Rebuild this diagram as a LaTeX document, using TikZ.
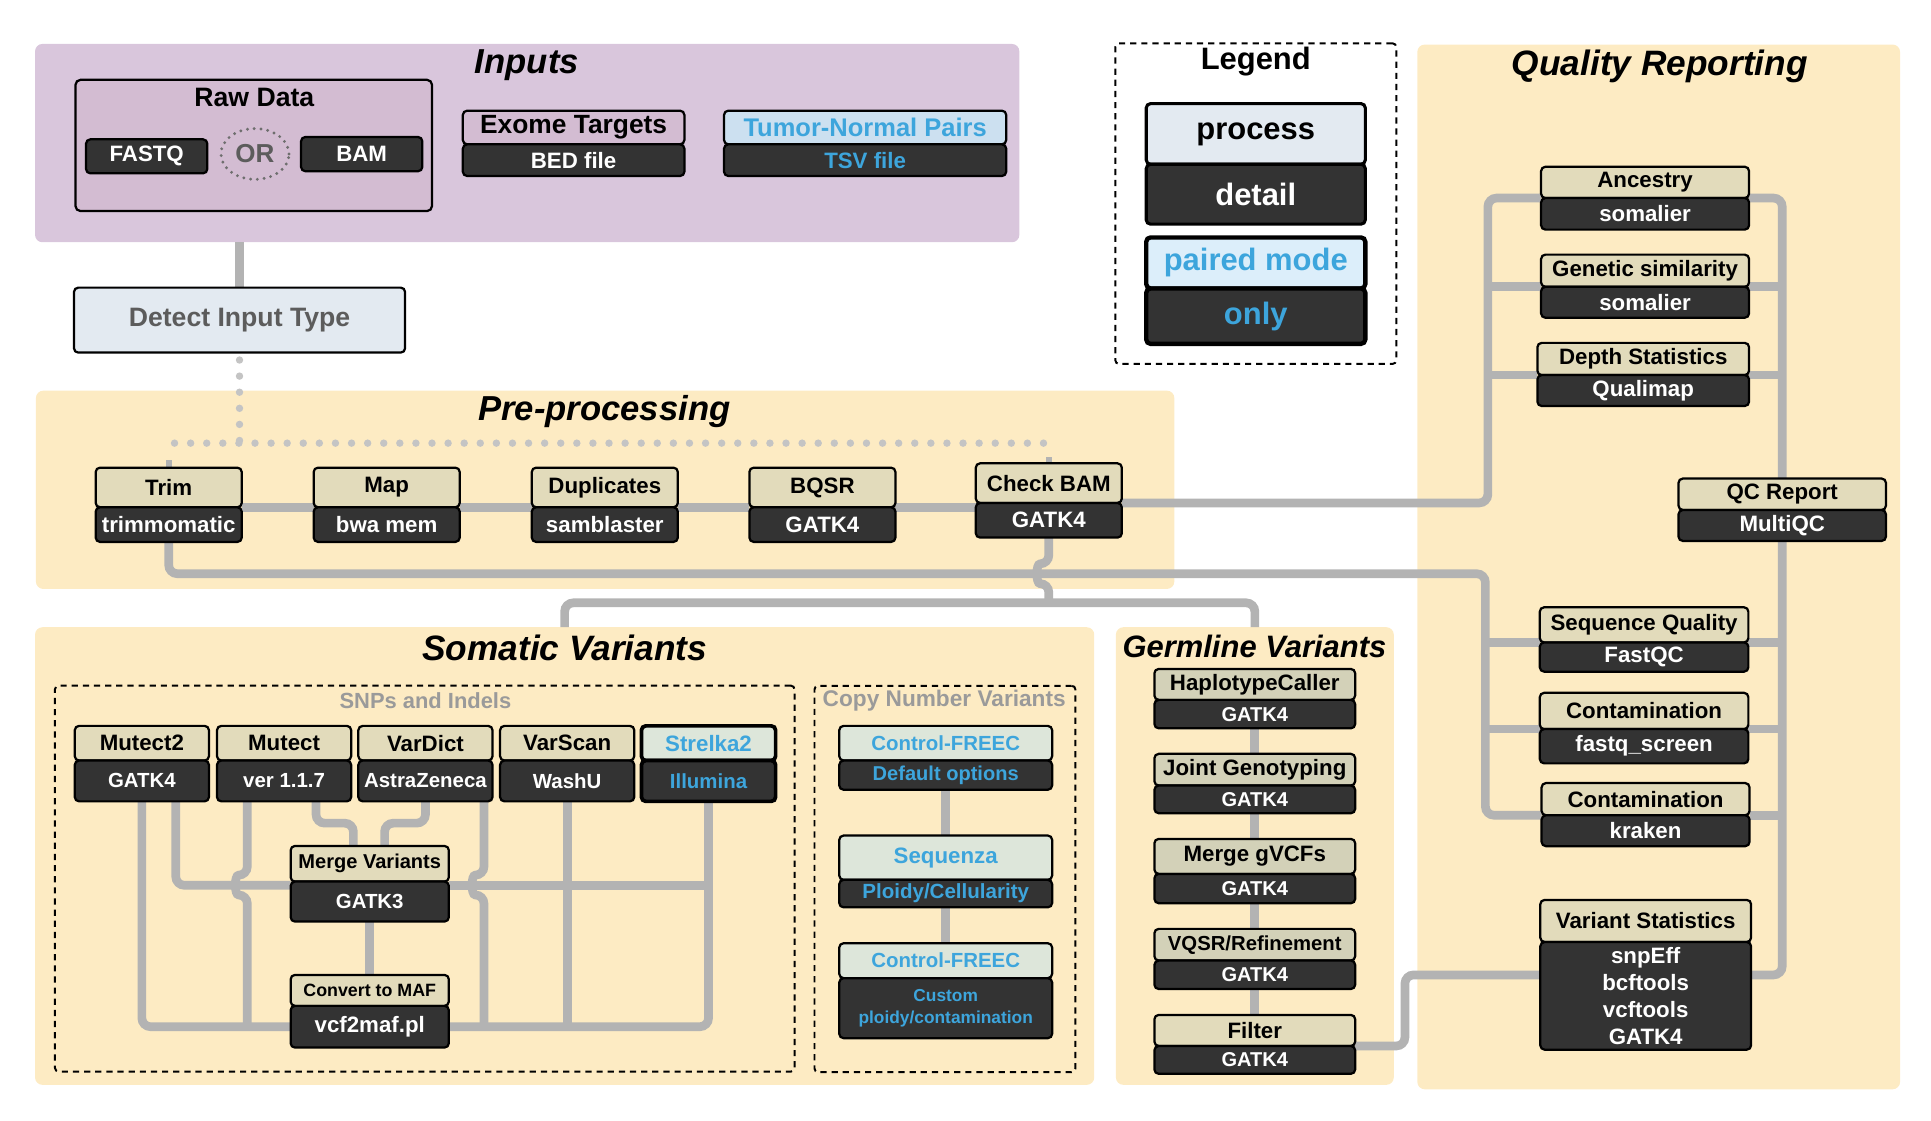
\documentclass[tikz,border=0pt]{standalone}
\usepackage{fontspec}
\setmainfont{Liberation Sans}
\usetikzlibrary{positioning,shapes.geometric,calc}
\pgfdeclarelayer{bg}
\pgfdeclarelayer{links}
\pgfsetlayers{bg,links,main}
\definecolor{inpc}{HTML}{D9C6DC}
\definecolor{rawc}{HTML}{D3BCD2}
\definecolor{orc}{HTML}{FDEBC3}
\definecolor{tanc}{HTML}{E2DBBB}
\definecolor{germc}{HTML}{D3D1B8}
\definecolor{darkc}{HTML}{333333}
\definecolor{linec}{HTML}{B3B3B3}
\definecolor{dotc}{HTML}{C4C4C4}
\definecolor{bluec}{HTML}{3DA5DC}
\definecolor{tnc}{HTML}{CCE0F0}
\definecolor{pairc}{HTML}{DCEEFA}
\definecolor{procc}{HTML}{E3EAF1}
\definecolor{cnvc}{HTML}{DDE6DA}
\definecolor{grayt}{HTML}{5C5C5C}
\definecolor{subt}{HTML}{9A9A9A}
\definecolor{orline}{HTML}{6E6E6E}

\begin{document}
\begin{tikzpicture}[x=1pt,y=-1pt,
  fs/.style={font=\bfseries\fontsize{#1}{#1}\selectfont},
  ttl/.style={font=\bfseries\itshape\fontsize{#1}{#1}\selectfont},
  panel/.style={fill=#1,rounded corners=6pt,inner sep=0pt,outer sep=0pt},
  dashbox/.style={draw=black,line width=1.6pt,dash pattern=on 5pt off 4pt,rounded corners=3pt,inner sep=0pt},
  hd/.style 2 args={draw=black,line width=1.8pt,rounded corners=3.5pt,fill=tanc,inner sep=0pt,outer sep=0pt,minimum width=#1,minimum height=#2,fs=18},
  dt/.style 2 args={hd={#1}{#2},fill=darkc,text=white},
  gline/.style={draw=linec,line width=7pt,rounded corners=7pt},
  dotline/.style={draw=dotc,line width=6pt,line cap=round,dash pattern=on 0pt off 13pt},
]
\useasboundingbox (0,0) rectangle (1560,905.6);

% group panels
\begin{pgfonlayer}{bg}
\node[panel=inpc,minimum width=795.2,minimum height=160.2] (inputs) at (425.9,115.6) {};
\node[panel=orc,minimum width=919.7,minimum height=160.2] (pre) at (488.85,395.7) {};
\node[panel=orc,minimum width=855.7,minimum height=369.7] (som) at (456.15,691.55) {};
\node[panel=orc,minimum width=224.5,minimum height=369.7] (germ) at (1013.75,691.55) {};
\node[panel=orc,minimum width=390,minimum height=844] (qual) at (1340,458) {};
\node[dashbox,minimum width=597.5,minimum height=311.8] (snp) at (343.15,709.8) {};
\node[dashbox,minimum width=210.8,minimum height=312.2] (cnv) at (763.4,710.1) {};
\node[dashbox,minimum width=227,minimum height=259] (legend) at (1014.5,164.5) {};
\end{pgfonlayer}
\node[ttl=28] (inputsT) at (425.6,52.5) {Inputs};
\node[ttl=28] (preT) at (488.2,332.5) {Pre-processing};
\node[ttl=28.5] (somT) at (456.2,523.7) {Somatic Variants};
\node[ttl=25] (germT) at (1013.4,522.4) {Germline Variants};
\node[ttl=28.5] (qualT) at (1341,53.4) {Quality Reporting};
\node[fs=17.7,text=subt] (snpT) at (343.7,566) {SNPs and Indels};
\node[fs=18.3,text=subt] (cnvT) at (762.8,566.2) {Copy Number Variants};
\node[fs=25] (legT) at (1014.5,50) {Legend};

% inputs
\node[draw=black,line width=1.8pt,fill=rawc,rounded corners=4pt,inner sep=0pt,minimum width=288,minimum height=106] (raw) at (205,117.5) {};
\node[fs=21.5] (rawT) at (205.5,79) {Raw Data};
\node[dt={98}{27.5}] (fastq) at (118.5,126.3) {FASTQ};
\node[dt={98}{27.7}] (bam) at (292.2,124.5) {BAM};
\node[ellipse,draw=orline,line width=2.6pt,line cap=round,dash pattern=on 0pt off 5.5pt,inner sep=0pt,minimum width=55,minimum height=41,text=grayt,fs=21] (or) at (206,124.4) {OR};
\node[hd={179}{27.2},fill=rawc,anchor=north,fs=21.3] (exome) at (463.4,89.4) {Exome Targets};
\node[dt={179}{25.6},below=0pt of exome] (exomed) {BED file};
\node[hd={228}{27.2},fill=tnc,text=bluec,anchor=north,fs=20.6] (tnp) at (698.9,89.4) {Tumor-Normal Pairs};
\node[dt={228}{25.6},below=0pt of tnp,text=bluec] (tnpd) {TSV file};
\node[hd={267.5}{52.5},fill=procc,text=grayt,fs=21.5] (detect) at (193.5,258.6) {Detect Input Type};

% legend
\node[hd={177}{49},fill=procc,line width=2.5pt,anchor=north,fs=25] (proc) at (1014.5,83.7) {process};
\node[dt={177}{48.4},line width=2.5pt,below=0pt of proc,fs=25] (procd) {detail};
\node[hd={177}{41.2},fill=pairc,text=bluec,line width=3.5pt,anchor=north,fs=25] (pair) at (1014.5,191.8) {paired mode};
\node[dt={177}{44.8},text=bluec,line width=3.5pt,below=0pt of pair,fs=25] (paird) {only};

% pre-processing
\node[hd={118}{32},anchor=north] (trim) at (136.3,377.8) {Trim};
\node[dt={118}{28},below=0pt of trim] (trimd) {trimmomatic};
\node[hd={118}{32},anchor=north] (map) at (312.4,377.8) {Map};
\node[dt={118}{28},below=0pt of map] (mapd) {bwa mem};
\node[hd={118}{32},anchor=north] (dup) at (488.6,377.8) {Duplicates};
\node[dt={118}{28},below=0pt of dup] (dupd) {samblaster};
\node[hd={118}{32},anchor=north] (bqsr) at (664.4,377.8) {BQSR};
\node[dt={118}{28},below=0pt of bqsr] (bqsrd) {GATK4};
\node[hd={118}{32},anchor=north] (chk) at (847.3,374.3) {Check BAM};
\node[dt={118}{28},below=0pt of chk] (chkd) {GATK4};

% somatic
\node[hd={108.4}{28},anchor=north] (m2) at (114.6,586.4) {Mutect2};
\node[dt={108.4}{33},below=0pt of m2,fs=16.5] (m2d) {GATK4};
\node[hd={108.4}{28},anchor=north] (mu) at (229.5,586.4) {Mutect};
\node[dt={108.4}{33},below=0pt of mu,fs=16.5] (mud) {ver 1.1.7};
\node[hd={108.4}{28},anchor=north] (vd) at (343.7,586.4) {VarDict};
\node[dt={108.4}{33},below=0pt of vd,fs=16.5] (vdd) {AstraZeneca};
\node[hd={108.4}{28},anchor=north] (vsc) at (458.2,586.4) {VarScan};
\node[dt={108.4}{33},below=0pt of vsc,fs=16.5] (vscd) {WashU};
\node[hd={108.4}{28},fill=cnvc,text=bluec,line width=3pt,anchor=north] (stk) at (572.4,586.4) {Strelka2};
\node[dt={108.4}{33},text=bluec,line width=3pt,below=0pt of stk,fs=16.5] (stkd) {Illumina};
\node[hd={127.8}{28.8},anchor=north,fs=16.2] (mg) at (298.7,683.4) {Merge Variants};
\node[dt={127.8}{32.3},below=0pt of mg,fs=16.5] (mgd) {GATK3};
\node[hd={127.8}{25},anchor=north,fs=14.4] (cv) at (298.7,787.6) {Convert to MAF};
\node[dt={127.8}{33.7},below=0pt of cv] (cvd) {vcf2maf.pl};

% copy number
\node[hd={172}{28},fill=cnvc,text=bluec,anchor=north,fs=16.5] (cf1) at (764,586.4) {Control-FREEC};
\node[dt={172}{23.6},text=bluec,below=0pt of cf1,fs=16.2] (cf1d) {Default options};
\node[hd={172}{35.8},fill=cnvc,text=bluec,anchor=north] (sqz) at (764,675) {Sequenza};
\node[dt={172}{22.2},text=bluec,below=0pt of sqz,fs=16.6] (sqzd) {Ploidy/Cellularity};
\node[hd={172}{28.2},fill=cnvc,text=bluec,anchor=north,fs=16.5] (cf2) at (764,762) {Control-FREEC};
\node[dt={172}{48.5},text=bluec,below=0pt of cf2,align=center,font=\bfseries\fontsize{14}{17.5}\selectfont] (cf2d) {Custom\\ploidy/contamination};

% germline
\node[hd={162.2}{25},fill=germc,anchor=north] (hc) at (1013.7,540.4) {HaplotypeCaller};
\node[dt={162.2}{23},below=0pt of hc,fs=16.2] (hcd) {GATK4};
\node[hd={162.2}{25.6},fill=germc,anchor=north] (jg) at (1013.7,609) {Joint Genotyping};
\node[dt={162.2}{22.4},below=0pt of jg,fs=16.2] (jgd) {GATK4};
\node[hd={162.2}{28.3},fill=germc,anchor=north] (mgv) at (1013.7,677.7) {Merge gVCFs};
\node[dt={162.2}{23.7},below=0pt of mgv,fs=16.2] (mgvd) {GATK4};
\node[hd={162.2}{25.6},fill=germc,anchor=north,fs=16.4] (vq) at (1013.7,750.4) {VQSR/Refinement};
\node[dt={162.2}{23},below=0pt of vq,fs=16.2] (vqd) {GATK4};
\node[hd={162.2}{25.1},anchor=north] (flt) at (1013.7,819.9) {Filter};
\node[dt={162.2}{22.5},below=0pt of flt,fs=16.2] (fltd) {GATK4};

% quality reporting
\node[hd={168}{25.3},anchor=north] (anc) at (1329,134.7) {Ancestry};
\node[dt={168}{25.5},below=0pt of anc] (ancd) {somalier};
\node[hd={168}{26},anchor=north] (gen) at (1329,205.7) {Genetic similarity};
\node[dt={168}{25},below=0pt of gen] (gend) {somalier};
\node[hd={171}{26},anchor=north] (dep) at (1327.5,277) {Depth Statistics};
\node[dt={171}{25},below=0pt of dep] (depd) {Qualimap};
\node[hd={167.6}{25.4},anchor=north] (qc) at (1439.8,386.6) {QC Report};
\node[dt={167.6}{25},below=0pt of qc] (qcd) {MultiQC};
\node[hd={168.5}{28.4},anchor=north] (sq) at (1328.2,490.6) {Sequence Quality};
\node[dt={168.5}{23.6},below=0pt of sq] (sqd) {FastQC};
\node[hd={168.5}{29.3},anchor=north] (cfq) at (1328.2,559.7) {Contamination};
\node[dt={168.5}{27.7},below=0pt of cfq] (cfqd) {fastq\_screen};
\node[hd={168}{26},anchor=north] (krk) at (1329.4,632.6) {Contamination};
\node[dt={168}{25},below=0pt of krk] (krkd) {kraken};
\node[hd={170.3}{34},anchor=north] (vst) at (1329.5,727) {Variant Statistics};
\node[dt={170.3}{87},below=0pt of vst,align=center,font=\bfseries\fontsize{18}{21.9}\selectfont] (vstd) {snpEff\\bcftools\\vcftools\\GATK4};

% helper points
\coordinate (dotL) at (141,358);
\coordinate (dotR) at (847.3,358);
\coordinate (dj) at (193.5,358);
\coordinate (ch1) at (847.3,455.5);
\coordinate (ch2) at (847.3,471.5);
\coordinate (split) at (847.3,487);
\coordinate (qbx) at (1202,160);
\coordinate (ltop) at (1200,463.5);
\coordinate (vstL) at (1244.4,787.6);
\coordinate (vstR) at (1414.7,787.6);
\coordinate (fk) at (1135,815);
\coordinate (mgL) at ($(mgd.north west)+(0,3)$);
\coordinate (mgR) at ($(mgd.north east)+(0,3)$);
\coordinate (kk) at (0,665);
\coordinate (hopA) at (0,707);
\coordinate (hopB) at (0,723);
\coordinate (m2b) at ([xshift=27.4pt]m2d.south);
\coordinate (mux) at ([xshift=-29.7pt]mud.south);
\coordinate (mu2) at ([xshift=25.8pt]mud.south);
\coordinate (mgN1) at ([xshift=-13.2pt]mg.north);
\coordinate (mgN2) at ([xshift=12pt]mg.north);
\coordinate (vd2) at ([xshift=47.3pt]vdd.south);

\begin{pgfonlayer}{links}
\draw[gline] (detect.north |- inputs.south) -- (detect.north);
\draw[dotline] ([yshift=-6pt]detect.south) -- (dj);
\draw[dotline] (dotL) -- (dotR);
\draw[draw=linec,line width=5pt] (trim.north) -- ++(0,-6);
\draw[draw=linec,line width=5pt] (chk.north) -- ++(0,-5);
\draw[draw=orline,line width=2.6pt,line cap=round,dash pattern=on 0pt off 5.5pt] (fastq.east) -- (or.west);
\draw[draw=orline,line width=2.6pt,line cap=round,dash pattern=on 0pt off 5.5pt] (or.east) -- (bam.west);
% pre-processing chain
\draw[gline] (trim.south east) -- (map.south west);
\draw[gline] (map.south east) -- (dup.south west);
\draw[gline] (dup.south east) -- (bqsr.south west);
\draw[gline] (bqsr.south east) -- (bqsr.south east -| chk.west);
% check bam to QC
\draw[gline] (chk.south east) -| (qbx) -- (anc.south west);
\draw[gline] (qbx |- gen.south west) -- (gen.south west);
\draw[gline] (qbx |- dep.south west) -- (dep.south west);
\draw[gline] (anc.south east) -| (qc.north);
\draw[gline] (gen.south east) -- (qc.north |- gen.south east);
\draw[gline] (dep.south east) -- (qc.north |- dep.south east);
% trim to QC
\draw[gline] (trimd.south) |- (ltop) |- (krk.south west);
\draw[gline] (ltop |- sq.south west) -- (sq.south west);
\draw[gline] (ltop |- cfq.south west) -- (cfq.south west);
\draw[gline] (qcd.south) |- (vstR);
\draw[gline] (sq.south east) -- (qcd.south |- sq.south east);
\draw[gline] (cfq.south east) -- (qcd.south |- cfq.south east);
\draw[gline] (krk.south east) -- (qcd.south |- krk.south east);
\draw[gline] (vstL) -| (fk) |- (flt.south east);
% check bam to callers
\draw[gline] (chkd.south) -- (ch1) to[out=180,in=180,looseness=1.7] (ch2) -- (split);
\draw[gline] (split) -| (som.north);
\draw[gline] (split) -| (germ.north);
% somatic
\draw[gline] (m2d.south) |- (cvd.west);
\draw[gline] (cvd.east) -| (stkd.south);
\draw[gline] (m2b) |- (mgL);
\draw[gline] (mux) -- (mux |- hopA) to[out=180,in=180,looseness=1.7] (mux |- hopB) -- (mux |- cvd.west);
\draw[gline] (mu2) -- (mu2 |- kk) -| (mgN1);
\draw[gline] (vdd.south) -- (vdd.south |- kk) -| (mgN2);
\draw[gline] (vd2) -- (vd2 |- hopA) to[out=180,in=180,looseness=1.7] (vd2 |- hopB) -- (vd2 |- cvd.west);
\draw[gline] (vscd.south) -- (vscd.south |- cvd.west);
\draw[gline] (mgR) -- (stkd.south |- mgR);
\draw[gline] (mgd.south) -- (cv.north);
% copy number
\draw[gline] (cf1d.south) -- (sqz.north);
\draw[gline] (sqzd.south) -- (cf2.north);
% germline
\draw[gline] (hcd.south) -- (jg.north);
\draw[gline] (jgd.south) -- (mgv.north);
\draw[gline] (mgvd.south) -- (vq.north);
\draw[gline] (vqd.south) -- (flt.north);
\end{pgfonlayer}
\end{tikzpicture}
\end{document}
